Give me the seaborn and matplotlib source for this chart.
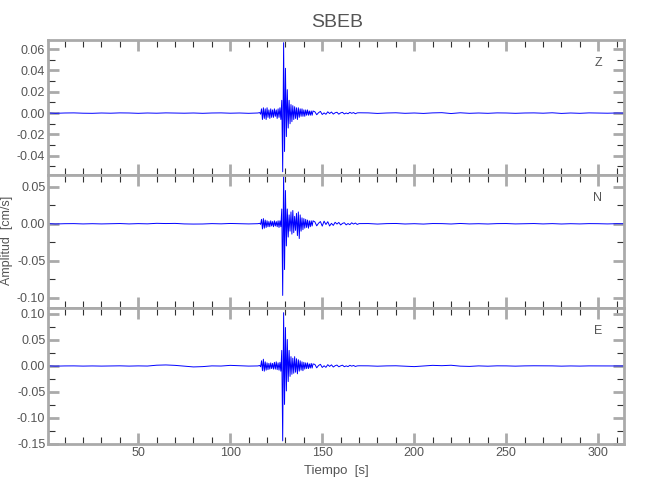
import numpy as np
import seaborn as sns
import matplotlib
matplotlib.use("Agg")
import matplotlib.pyplot as plt
from matplotlib.ticker import MultipleLocator, FixedLocator

# sample times [s] (coarse outside the event, fine inside)
time_s = [
    1, 5, 10, 15, 20, 25, 30, 35, 40, 45, 50, 55, 60, 65, 70, 75, 80, 85, 90, 95, 100, 105, 110, 115,
    116.0, 116.5, 117.0, 117.5, 118.0, 118.5, 119.0, 119.5, 120.0, 120.5,
    121.0, 121.5, 122.0, 122.5, 123.0, 123.5, 124.0, 124.5, 125.0, 125.5,
    126.0, 126.5, 127.0, 127.5, 128.0, 128.5, 129.0, 129.5, 130.0, 130.5,
    131.0, 131.5, 132.0, 132.5, 133.0, 133.5, 134.0, 134.5, 135.0, 135.5,
    136.0, 136.5, 137.0, 137.5, 138.0, 138.5, 139.0, 139.5, 140.0, 140.5,
    141.0, 141.5, 142.0, 142.5, 143.0, 143.5, 144.0, 144.5, 145.0,
    146, 147, 148, 149, 150, 151, 152, 153, 154, 155, 156, 157, 158, 159, 160,
    161, 162, 163, 164, 165, 166, 167, 168, 169, 170,
    175, 180, 185, 190, 195, 200, 205, 210, 215, 220, 225, 230, 235, 240, 245,
    250, 255, 260, 265, 270, 275, 280, 285, 290, 295, 300, 305, 310, 314,
]

# vertical component [cm/s]
amp_z = [
    0.0001, -0.0002, 0.0001, 0.0002, -0.0001, -0.0002, 0.0001, -0.0001, 0.0002, 0.0001, -0.0002, 0.0001,
    -0.0001, 0.0002, 0.0001, -0.0001, 0.0001, -0.0002, 0.0001, 0.0002, -0.0001, 0.0001, -0.0002, 0.0001,
    0.0005, -0.001, 0.004, -0.006, 0.005, -0.005, 0.004, -0.006, 0.005, -0.004,
    0.003, -0.005, 0.004, -0.004, 0.003, -0.004, 0.004, -0.003, 0.003, -0.005,
    0.004, -0.004, 0.005, -0.006, 0.012, -0.055, 0.066, -0.036, 0.042, -0.022,
    0.022, -0.014, 0.012, -0.010, 0.008, -0.008, 0.007, -0.006, 0.006, -0.005,
    0.005, -0.006, 0.005, -0.004, 0.004, -0.003, 0.004, -0.003, 0.003, -0.003,
    0.003, -0.002, 0.003, -0.002, 0.002, -0.002, 0.002, -0.002, 0.002,
    0.0012, -0.0015, 0.0004, 0.0016, -0.0013, 0.0002, -0.0011, 0.0012, -0.0004, 0.0010, -0.0009, 0.0003,
    0.0008, -0.0010, 0.0002, 0.0007, -0.0008, 0.0001, -0.0006, 0.0007, -0.0002, 0.0005, -0.0006, 0.0002, 0.0003,
    0.0002, -0.0003, 0.0001, 0.0003, -0.0002, 0.0001, -0.0003, 0.0002, 0.0004, -0.0004, 0.0003, -0.0002,
    0.0001, -0.0002, 0.0002, 0.0001, -0.0002, 0.0001, 0.0002, -0.0001, 0.0003, -0.0003, 0.0001, -0.0002,
    0.0002, 0.0001, -0.0001, 0.0001, 0.0000,
]

# north component [cm/s]
amp_n = [
    0.0002, -0.0003, 0.0001, 0.0002, -0.0002, 0.0001, -0.0002, 0.0001, 0.0003, -0.0002, 0.0002, -0.0001,
    0.0006, 0.0003, 0.0005, -0.0002, -0.0004, -0.0003, 0.0002, -0.0001, 0.0004, 0.0001, -0.0002, 0.0001,
    0.0006, -0.0008, 0.006, -0.007, 0.007, -0.006, 0.005, -0.005, 0.004, -0.004,
    0.003, -0.004, 0.004, -0.003, 0.003, -0.004, 0.004, -0.003, 0.003, -0.004,
    0.004, -0.005, 0.004, -0.004, 0.020, -0.097, 0.070, -0.062, 0.045, -0.030,
    0.020, -0.018, 0.012, -0.010, 0.016, -0.014, 0.018, -0.012, 0.010, -0.009,
    0.014, -0.016, 0.016, -0.020, 0.012, -0.010, 0.008, -0.008, 0.007, -0.006,
    0.006, -0.005, 0.005, -0.006, 0.004, -0.004, 0.004, -0.003, 0.004,
    0.0025, -0.0028, 0.0008, 0.0030, -0.0032, 0.0035, -0.0010, 0.0028, -0.0030, 0.0006, -0.0022, 0.0020,
    -0.0004, 0.0018, -0.0016, 0.0005, 0.0014, -0.0015, 0.0003, -0.0012, 0.0013, -0.0004, 0.0010, -0.0009, 0.0002,
    0.0003, -0.0004, 0.0002, 0.0004, -0.0003, 0.0001, -0.0004, 0.0003, 0.0002, -0.0003, 0.0004, -0.0002,
    0.0001, -0.0003, 0.0002, 0.0003, -0.0002, 0.0001, 0.0003, -0.0002, 0.0002, -0.0003, 0.0001, -0.0002,
    0.0002, 0.0001, -0.0002, 0.0001, 0.0000,
]

# east component [cm/s]
amp_e = [
    0.0002, -0.0003, 0.0001, 0.0002, -0.0002, 0.0001, -0.0002, 0.0001, 0.0003, -0.0002, 0.0002, -0.0001,
    0.0015, 0.0020, 0.0012, -0.0004, -0.0018, -0.0012, 0.0002, -0.0001, 0.0012, 0.0004, -0.0002, 0.0001,
    0.001, -0.0015, 0.010, -0.009, 0.013, -0.010, 0.008, -0.008, 0.006, -0.007,
    0.005, -0.006, 0.006, -0.005, 0.005, -0.006, 0.007, -0.006, 0.008, -0.007,
    0.006, -0.008, 0.007, -0.010, 0.030, -0.144, 0.1025, -0.074, 0.074, -0.048,
    0.051, -0.030, 0.030, -0.020, 0.018, -0.016, 0.015, -0.014, 0.018, -0.012,
    0.014, -0.015, 0.012, -0.010, 0.010, -0.008, 0.008, -0.009, 0.007, -0.006,
    0.006, -0.005, 0.006, -0.005, 0.004, -0.004, 0.005, -0.004, 0.004,
    0.0030, -0.0035, 0.0010, 0.0032, -0.0028, 0.0004, -0.0026, 0.0025, -0.0008, 0.0022, -0.0020, 0.0005,
    0.0018, -0.0016, 0.0003, 0.0015, -0.0014, 0.0002, -0.0012, 0.0013, -0.0003, 0.0010, -0.0009, 0.0002, 0.0004,
    0.0003, -0.0004, 0.0002, 0.0004, -0.0003, -0.0012, 0.0001, 0.0012, 0.0006, 0.0014, -0.0003, -0.0008,
    0.0002, -0.0004, 0.0003, 0.0002, -0.0003, 0.0002, 0.0004, 0.0003, 0.0002, -0.0003, 0.0001, -0.0002,
    0.0002, 0.0001, -0.0002, 0.0001, 0.0000,
]

components = ["Z", "N", "E"]
ylims = [(-0.058, 0.0685), (-0.114, 0.066), (-0.15, 0.1115)]
ymajor = [0.02, 0.05, 0.05]
yminor = [0.01, 0.025, 0.025]
xticks = [50, 100, 150, 200, 250, 300]

sns.set_style("ticks")
plt.rcParams["font.family"] = ["Liberation Sans", "DejaVu Sans"]
grey = "#555555"
spine_grey = "#aaaaaa"

fig = plt.figure(figsize=(6.5, 5), dpi=100)
boxes = [[0.074, 0.65, 0.886, 0.27], [0.074, 0.384, 0.886, 0.266], [0.074, 0.112, 0.886, 0.272]]

for i, (amp, comp) in enumerate(zip([amp_z, amp_n, amp_e], components)):
    ax = fig.add_axes(boxes[i])
    sns.lineplot(x=time_s, y=amp, ax=ax, color="#0000ff", lw=0.7,
                 estimator=None, sort=False)
    ax.set_xlim(1, 314)
    ax.set_ylim(*ylims[i])
    ax.xaxis.set_major_locator(FixedLocator(xticks))
    ax.xaxis.set_minor_locator(MultipleLocator(10))
    ax.yaxis.set_major_locator(MultipleLocator(ymajor[i]))
    ax.yaxis.set_minor_locator(MultipleLocator(yminor[i]))
    ax.tick_params(which="major", direction="in", length=8, width=2, color=spine_grey,
                   top=True, right=True, labelsize=9, labelcolor=grey, pad=2)
    ax.tick_params(which="minor", direction="in", length=5, width=0.8, color="#333333",
                   top=True, right=True)
    for sp in ax.spines.values():
        sp.set_color(spine_grey)
        sp.set_linewidth(2)
    ax.yaxis.set_major_formatter(plt.FuncFormatter(lambda v, p: "%.2f" % v))
    if i < 2:
        ax.set_xticklabels([])
    ax.set_xlabel("")
    ax.set_ylabel("")
    ax.text(0.962, 0.83, comp, transform=ax.transAxes, ha="right", va="center",
            color=grey, fontsize=9)

fig.text(0.518, 0.955, "SBEB", ha="center", va="center", color=grey, fontsize=14)
fig.text(0.518, 0.058, "Tiempo  [s]", ha="center", va="center", color=grey, fontsize=9.5)
fig.text(0.011, 0.52, "Amplitud  [cm/s]", ha="center", va="center", rotation=90,
         color=grey, fontsize=9)

fig.savefig("out.png", dpi=100)
